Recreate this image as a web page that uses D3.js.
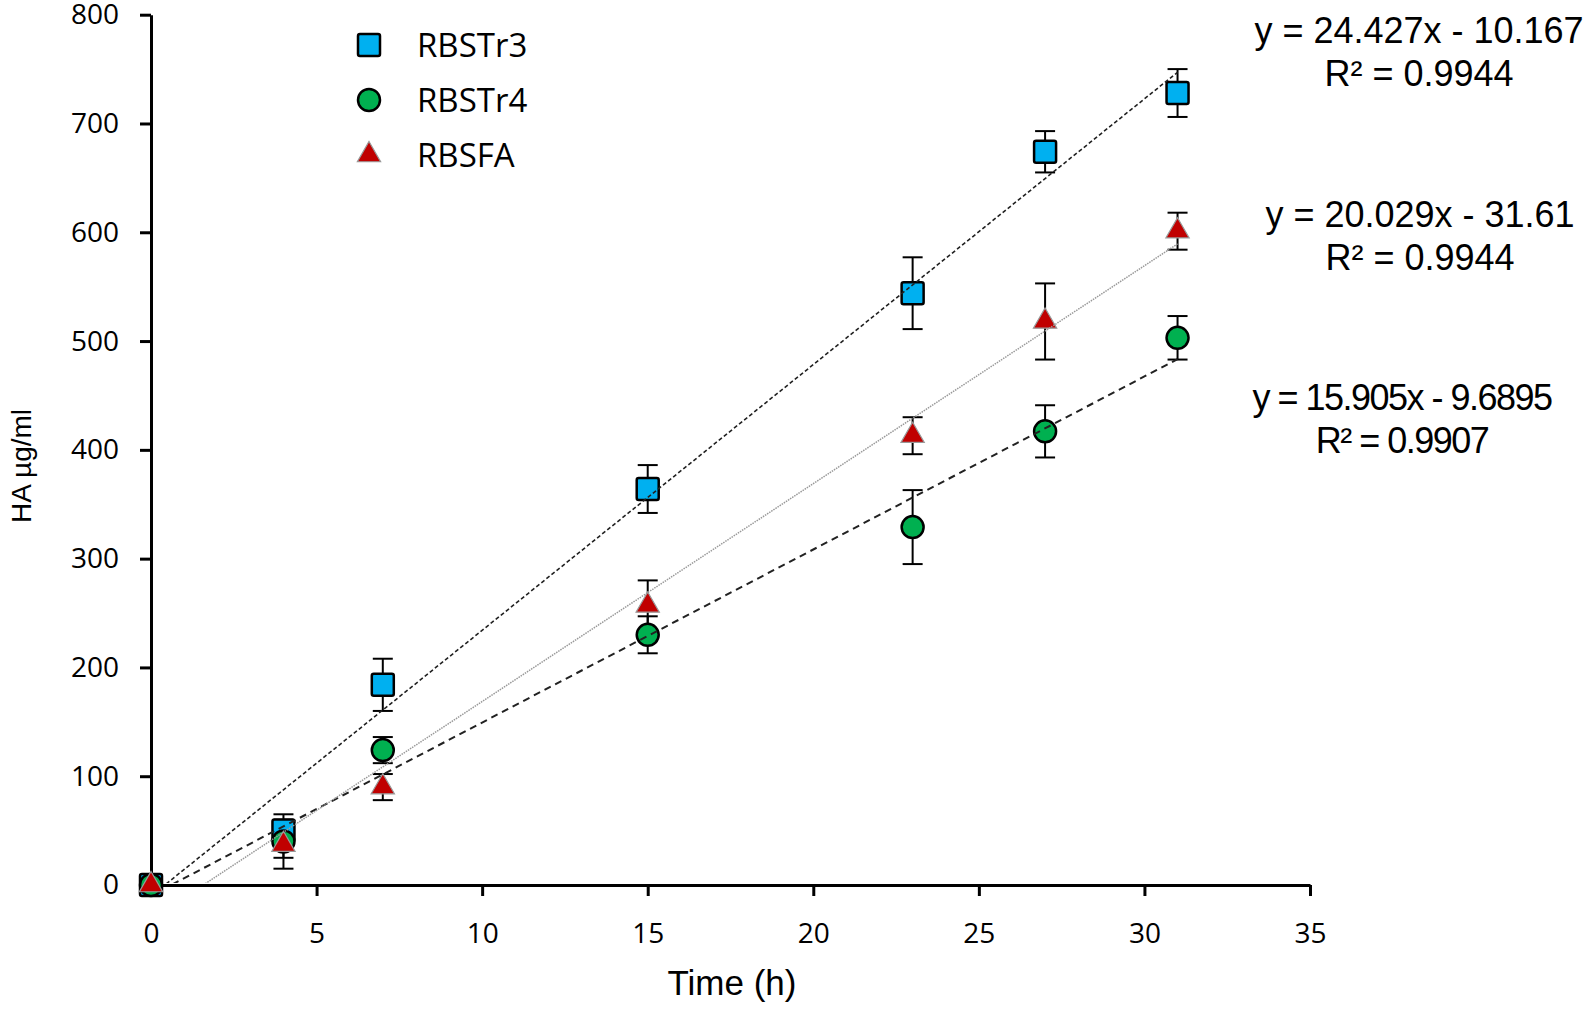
<!DOCTYPE html>
<html>
<head>
<meta charset="utf-8">
<script src="https://cdn.jsdelivr.net/npm/d3@7"></script>
<style>
 body { margin: 0; background: #fff; }
 .axis path, .axis line { stroke: #000; stroke-width: 3; }
 .axis text { font-family: "Open Sans", sans-serif; font-size: 28px; fill: #000; }
 .eq { font-family: "Liberation Sans", Arial, sans-serif; font-size: 36px; fill: #000; }
</style>
</head>
<body>
<script>

// time points (h)
var hours = [0, 4, 7, 15, 23, 27, 31]

var rbstr3 = [0, 50, 184, 364, 544, 674, 728]
var rbstr3_err = [0, 10, 24, 22, 33, 19, 22]

var rbstr4 = [0, 40, 124, 230, 329, 417, 503]
var rbstr4_err = [0, 25, 12, 17, 34, 24, 20]

var rbsfa = [0, 37, 90, 257, 413, 518, 601]
var rbsfa_err = [0, 12, 12, 23, 17, 35, 17]

var seriesNames = ['RBSTr3', 'RBSTr4', 'RBSFA']

// trendline equations as printed on the chart
var slopes = [24.427, 15.905, 20.029]
var intercepts = [-10.167, -9.6895, -31.61]
var eqText = [['y = 24.427x - 10.167', 'R² = 0.9944'],
              ['y = 15.905x - 9.6895', 'R² = 0.9907'],
              ['y = 20.029x - 31.61', 'R² = 0.9944']]

var xTicks = [0, 5, 10, 15, 20, 25, 30, 35]
var yTicks = [0, 100, 200, 300, 400, 500, 600, 700, 800]


var W = 1594, H = 1010

var svg = d3.select('body').append('svg').attr('width', W).attr('height', H)

var x = d3.scaleLinear().domain([0, 35]).range([151, 1310])
var y = d3.scaleLinear().domain([0, 800]).range([885, 14.7])

var series = [
  { name: seriesNames[0], vals: rbstr3, err: rbstr3_err, shape: 'square', fill: '#00b0f0', dash: '4,2.5', lc: '#222', lw: 1.6 },
  { name: seriesNames[1], vals: rbstr4, err: rbstr4_err, shape: 'circle', fill: '#00b050', dash: '7,5', lc: '#222', lw: 2 },
  { name: seriesNames[2], vals: rbsfa, err: rbsfa_err, shape: 'tri', fill: '#c00000', dash: '1.5,1', lc: '#999', lw: 1.5 }
]
series.forEach(function(s, i) {
  s.m = slopes[i]; s.b = intercepts[i]; s.eq = eqText[i]
  s.points = hours.map(function(h, j) { return { h: h, v: s.vals[j], e: s.err[j] } })
})

// axes
var gx = svg.append('g').attr('class', 'axis').attr('transform', 'translate(0,' + y(0) + ')')
  .call(d3.axisBottom(x).tickValues(xTicks).tickSize(11).tickSizeOuter(0).tickPadding(27))
gx.selectAll('text').attr('dy', '0.71em')

var gy = svg.append('g').attr('class', 'axis').attr('transform', 'translate(' + x(0) + ',0)')
  .call(d3.axisLeft(y).tickValues(yTicks).tickSize(11).tickSizeOuter(0).tickPadding(21))

svg.append('text').attr('x', 732).attr('y', 995).attr('text-anchor', 'middle')
  .style('font-family', '"Liberation Sans", Arial, sans-serif').style('font-size', '35px')
  .text('Time (h)')

svg.append('text').attr('transform', 'translate(31,466) rotate(-90)').attr('text-anchor', 'middle')
  .style('font-family', '"Liberation Sans", Arial, sans-serif').style('font-size', '28px')
  .text('HA µg/ml')

// clip for trendlines
svg.append('clipPath').attr('id', 'plot').append('rect')
  .attr('x', x(0)).attr('y', y(800)).attr('width', x(35) - x(0)).attr('height', y(0) - y(800) - 2)

function marker(sel, s, size) {
  if (s.shape == 'square') {
    sel.append('rect').attr('x', -size / 2).attr('y', -size / 2).attr('width', size).attr('height', size)
      .attr('rx', 2).attr('fill', s.fill).attr('stroke', '#000').attr('stroke-width', 2.5)
  } else if (s.shape == 'circle') {
    sel.append('circle').attr('r', size / 2).attr('fill', s.fill).attr('stroke', '#000').attr('stroke-width', 2.5)
  } else {
    // equilateral triangle about 23px wide
    sel.append('path').attr('d', d3.symbol().type(d3.symbolTriangle).size(235))
      .attr('fill', s.fill).attr('stroke', '#999').attr('stroke-width', 1.2)
  }
}

// error bars
series.forEach(function(s) {
  var eb = svg.append('g').selectAll('g').data(s.points.filter(function(d) { return d.e > 0 })).enter().append('g')
  eb.append('line').attr('x1', function(d) { return x(d.h) }).attr('x2', function(d) { return x(d.h) })
    .attr('y1', function(d) { return y(d.v + d.e) }).attr('y2', function(d) { return y(d.v - d.e) })
  ;[1, -1].forEach(function(sign) {
    eb.append('line').attr('x1', function(d) { return x(d.h) - 10 }).attr('x2', function(d) { return x(d.h) + 10 })
      .attr('y1', function(d) { return y(d.v + sign * d.e) }).attr('y2', function(d) { return y(d.v + sign * d.e) })
  })
  eb.selectAll('line').attr('stroke', '#000').attr('stroke-width', 2)
})

// markers
series.forEach(function(s) {
  svg.append('g').selectAll('g').data(s.points).enter().append('g')
    .attr('transform', function(d) { return 'translate(' + x(d.h) + ',' + y(d.v) + ')' })
    .each(function() { marker(d3.select(this), s, 22) })
})

// linear trendlines
var line = d3.line().x(function(d) { return x(d[0]) }).y(function(d) { return y(d[1]) })
series.forEach(function(s) {
  svg.append('path').attr('clip-path', 'url(#plot)')
    .attr('d', line([[0, s.b], [31, s.m * 31 + s.b]]))
    .attr('fill', 'none').attr('stroke', s.lc).attr('stroke-width', s.lw).attr('stroke-dasharray', s.dash)
})

// legend
var leg = svg.append('g').selectAll('g').data(series).enter().append('g')
  .attr('transform', function(d, i) { return 'translate(369,' + (45 + i * 55) + ')' })
leg.each(function(s) { marker(d3.select(this), s, 22) })
leg.append('text').attr('x', 48).attr('y', 12)
  .style('font-family', '"Open Sans", sans-serif').style('font-size', '33px')
  .text(function(d) { return d.name })

// equation labels
var eqPos = [[1419, 43, 0], [1402, 410, -1.5], [1420, 227, 0]]
series.forEach(function(s, i) {
  var p = eqPos[i]
  s.eq.forEach(function(t, k) {
    svg.append('text').attr('class', 'eq').attr('x', p[0]).attr('y', p[1] + k * 42.5)
      .attr('text-anchor', 'middle').style('letter-spacing', p[2] + 'px').text(t)
  })
})

</script>
</body>
</html>
